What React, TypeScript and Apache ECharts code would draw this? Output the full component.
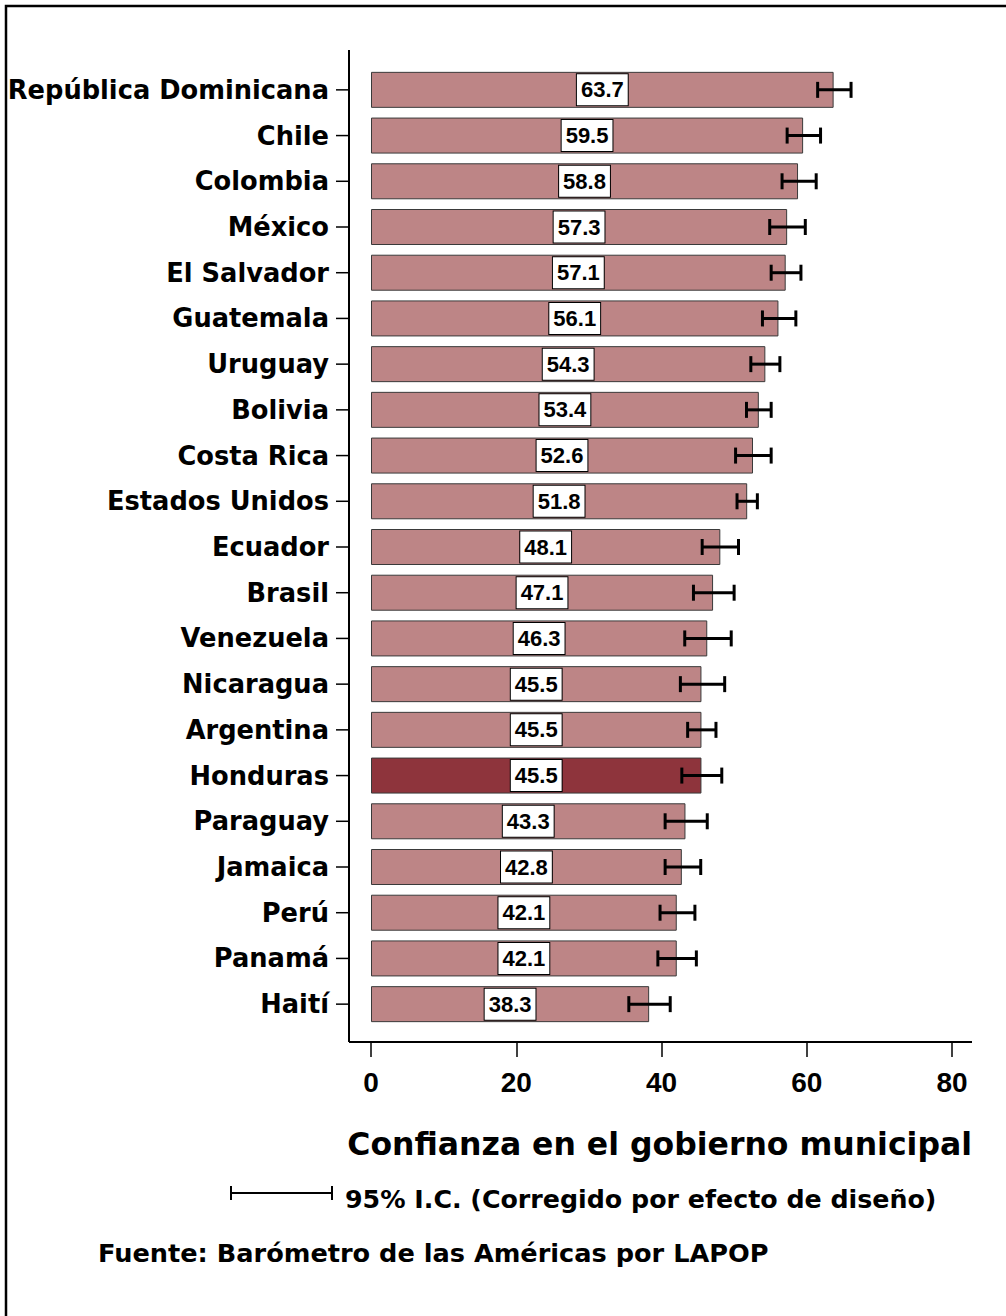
import React, { useEffect, useRef } from "react";
import * as echarts from "echarts";

const categories = [
  "República Dominicana", "Chile", "Colombia", "México", "El Salvador", "Guatemala",
  "Uruguay", "Bolivia", "Costa Rica", "Estados Unidos", "Ecuador", "Brasil",
  "Venezuela", "Nicaragua", "Argentina", "Honduras", "Paraguay", "Jamaica",
  "Perú", "Panamá", "Haití",
];
const values = [63.7, 59.5, 58.8, 57.3, 57.1, 56.1, 54.3, 53.4, 52.6, 51.8, 48.1, 47.1, 46.3, 45.5, 45.5, 45.5, 43.3, 42.8, 42.1, 42.1, 38.3];
const ciLow = [61.5, 57.3, 56.6, 54.9, 55.1, 53.9, 52.3, 51.7, 50.2, 50.4, 45.6, 44.4, 43.2, 42.6, 43.6, 42.8, 40.5, 40.5, 39.8, 39.5, 35.5];
const ciHigh = [66.1, 61.9, 61.3, 59.8, 59.2, 58.5, 56.3, 55.1, 55.1, 53.2, 50.6, 50.0, 49.6, 48.7, 47.5, 48.3, 46.3, 45.4, 44.6, 44.8, 41.2];
const xTicks = [0, 20, 40, 60, 80];
const highlight = "Honduras";

const LIGHT = "#BD8586";
const DARK = "#8E343C";

export default function App() {
  const ref = useRef<HTMLDivElement>(null);
  useEffect(() => {
    document.body.style.margin = "0";
    const chart = echarts.init(ref.current!, null, { renderer: "svg" });
    const dejavu = "'DejaVu Sans', Verdana, sans-serif";
    const arial = "'Liberation Sans', Arial, sans-serif";
    chart.setOption({
      animation: false,
      backgroundColor: "#ffffff",
      grid: { left: 371, right: 54, top: 67, bottom: 289, containLabel: false },
      xAxis: {
        type: "value",
        min: xTicks[0],
        max: xTicks[xTicks.length - 1],
        interval: 20,
        offset: 15,
        axisLine: { show: false },
        axisTick: { show: true, length: 15, lineStyle: { color: "#000", width: 1.5 } },
        splitLine: { show: false },
        axisLabel: { fontFamily: arial, fontWeight: "bold", fontSize: 28, color: "#000", margin: 26 },
      },
      yAxis: {
        type: "category",
        data: categories,
        inverse: true,
        offset: 22,
        axisLine: { show: false },
        axisTick: { show: false },
        axisLabel: { fontFamily: dejavu, fontWeight: "bold", fontSize: 25.7, color: "#000", margin: 20 },
      },
      series: [
        {
          type: "bar",
          barWidth: 36,
          data: values.map((v, i) => ({
            value: v,
            itemStyle: { color: categories[i] === highlight ? DARK : LIGHT },
          })),
          itemStyle: { borderColor: "#3a3a3a", borderWidth: 1 },
          label: {
            show: true,
            position: "inside",
            formatter: (p: any) => p.value.toFixed(1),
            fontFamily: arial,
            fontWeight: "bold",
            fontSize: 22,
            color: "#000",
            backgroundColor: "#fff",
            borderColor: "#000",
            borderWidth: 1,
            padding: [5, 4, 4, 4],
          },
        },
        {
          type: "custom",
          data: ciLow.map((lo, i) => [lo, ciHigh[i], i]),
          encode: { x: [0, 1], y: 2 },
          z: 10,
          renderItem: (params: any, api: any) => {
            const idx = api.value(2);
            const p1 = api.coord([api.value(0), idx]);
            const p2 = api.coord([api.value(1), idx]);
            const p0 = api.coord([0, idx]);
            const h = 8;
            const style = { stroke: "#000", lineWidth: 3 };
            return {
              type: "group",
              children: [
                { type: "line", shape: { x1: p1[0], y1: p1[1], x2: p2[0], y2: p2[1] }, style },
                { type: "line", shape: { x1: p1[0], y1: p1[1] - h, x2: p1[0], y2: p1[1] + h }, style },
                { type: "line", shape: { x1: p2[0], y1: p2[1] - h, x2: p2[0], y2: p2[1] + h }, style },
                { type: "line", shape: { x1: p0[0] - 35, y1: p0[1], x2: p0[0] - 22, y2: p0[1] }, style: { stroke: "#000", lineWidth: 1.5 } },
              ],
            };
          },
        },
      ],
      graphic: [
        { type: "rect", shape: { x: 6, y: 6, width: 1100, height: 1400 }, style: { fill: "none", stroke: "#000", lineWidth: 2.5 }, silent: true },
        { type: "line", shape: { x1: 349, y1: 50, x2: 349, y2: 1042 }, style: { stroke: "#000", lineWidth: 2 } },
        { type: "line", shape: { x1: 349, y1: 1042, x2: 972, y2: 1042 }, style: { stroke: "#000", lineWidth: 2 } },
        {
          type: "text", x: 972, y: 1144,
          style: { text: "Confianza en el gobierno municipal", fontFamily: dejavu, fontWeight: "bold", fontSize: 31.5, fill: "#000", align: "right", verticalAlign: "middle" },
        },
        { type: "line", shape: { x1: 230, y1: 1193, x2: 333, y2: 1193 }, style: { stroke: "#000", lineWidth: 2 } },
        { type: "line", shape: { x1: 231, y1: 1186, x2: 231, y2: 1200 }, style: { stroke: "#000", lineWidth: 2 } },
        { type: "line", shape: { x1: 332, y1: 1186, x2: 332, y2: 1200 }, style: { stroke: "#000", lineWidth: 2 } },
        {
          type: "text", x: 345, y: 1199,
          style: { text: "95% I.C. (Corregido por efecto de diseño)", fontFamily: dejavu, fontWeight: "bold", fontSize: 25.3, fill: "#000", align: "left", verticalAlign: "middle" },
        },
        {
          type: "text", x: 98, y: 1253,
          style: { text: "Fuente: Barómetro de las Américas por LAPOP", fontFamily: dejavu, fontWeight: "bold", fontSize: 25.6, fill: "#000", align: "left", verticalAlign: "middle" },
        },
      ],
    });
    return () => chart.dispose();
  }, []);
  return <div ref={ref} style={{ width: 1006, height: 1316 }} />;
}
